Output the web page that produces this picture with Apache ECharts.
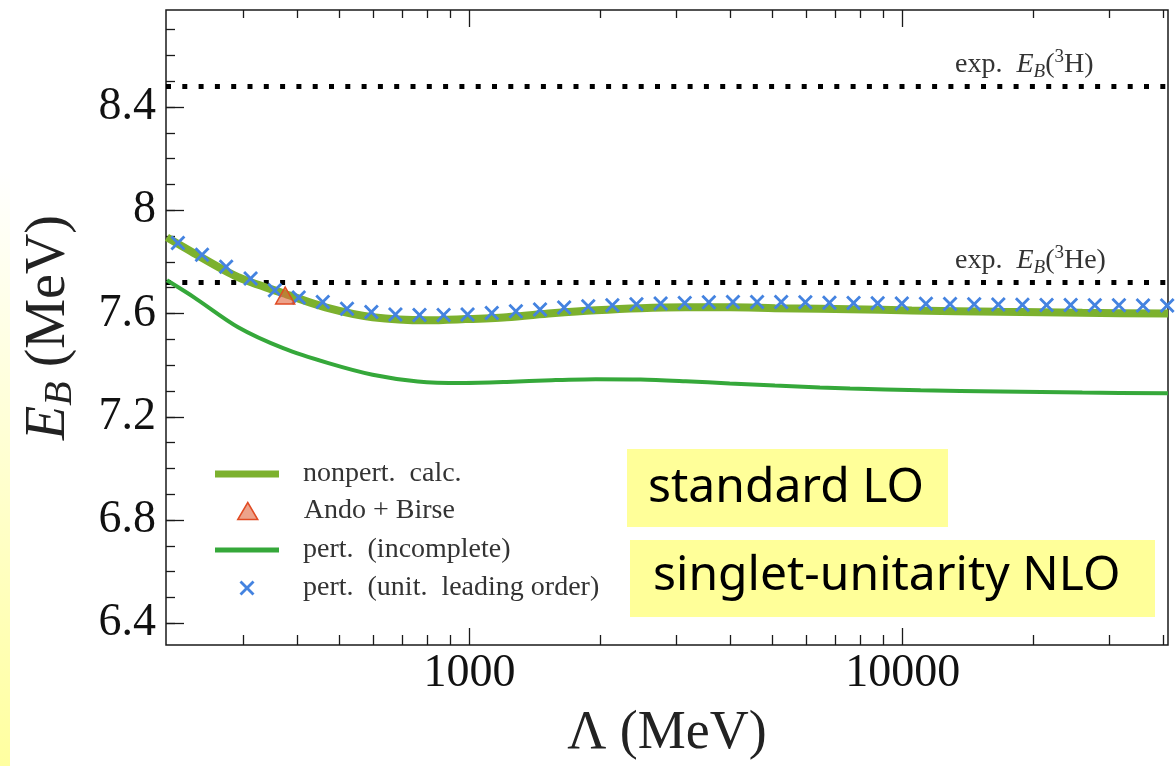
<!DOCTYPE html>
<html>
<head>
<meta charset="utf-8">
<script src="https://cdn.jsdelivr.net/npm/echarts@6/dist/echarts.min.js"></script>
<style>
  html, body { margin: 0; padding: 0; background: #ffffff; }
  #chart { width: 1176px; height: 766px; }
</style>
</head>
<body>
<div id="chart"></div>
<script>
// Triton binding energy E_B (MeV) versus cutoff Λ (MeV)

// nonperturbative calculation
const nonpertLambda = [200, 231, 292, 371, 472, 597, 796, 959, 1218, 1548, 1956, 2483, 3155, 3988, 5070, 6440, 7560, 10500, 16800, 26000, 41000];
const nonpertEB     = [7.895, 7.834, 7.741, 7.679, 7.621, 7.586, 7.574, 7.578, 7.586, 7.601, 7.613, 7.621, 7.624, 7.624, 7.621, 7.619, 7.617, 7.612, 7.607, 7.603, 7.600];

// perturbative (incomplete)
const pertLambda = [200, 231, 292, 371, 472, 597, 759, 959, 1218, 1548, 1956, 2483, 3155, 3988, 5070, 6440, 7560, 11000, 16800, 26000, 41000];
const pertEB     = [7.729, 7.663, 7.547, 7.466, 7.408, 7.363, 7.337, 7.331, 7.335, 7.342, 7.346, 7.345, 7.338, 7.329, 7.321, 7.314, 7.310, 7.303, 7.298, 7.294, 7.291];

// perturbative (unitarity leading order)
const unitLambda = [212, 241, 274, 312, 355, 403, 458, 521, 593, 674, 766, 871, 989, 1125, 1279, 1454, 1653, 1879, 2136, 2428, 2761,
                    3139, 3568, 4056, 4611, 5242, 5960, 6776, 7703, 8757, 9956, 11318, 12867, 14628, 16630, 18906, 21494, 24435, 27779, 31581, 35903, 40816];
const unitEB     = [7.873, 7.828, 7.781, 7.736, 7.690, 7.662, 7.645, 7.619, 7.606, 7.596, 7.594, 7.594, 7.596, 7.602, 7.609, 7.616, 7.623, 7.628, 7.632, 7.636, 7.639,
                    7.641, 7.644, 7.645, 7.645, 7.645, 7.644, 7.642, 7.641, 7.640, 7.639, 7.638, 7.637, 7.636, 7.635, 7.634, 7.633, 7.633, 7.632, 7.632, 7.631, 7.631];

// Ando + Birse point
const andoLambda = [375];
const andoEB     = [7.67];

// experimental binding energies
const expEB_H3  = 8.48;
const expEB_He3 = 7.72;

// axis ranges and ticks
const xRange = [199, 41000];
const yRange = [6.316, 8.776];
const xMajorTicks = [1000, 10000];
const xMinorTicks = [300, 400, 500, 600, 700, 800, 900, 2000, 3000, 4000, 5000, 6000, 7000, 8000, 9000, 20000, 30000, 40000];
const yMajorTicks = [6.4, 6.8, 7.2, 7.6, 8, 8.4];
const yMinorTicks = [6.4, 6.5, 6.6, 6.7, 6.8, 6.9, 7.0, 7.1, 7.2, 7.3, 7.4, 7.5, 7.6, 7.7, 7.8, 7.9, 8.0, 8.1, 8.2, 8.3, 8.4, 8.5, 8.6, 8.7];

const zip = (xs, ys) => xs.map((x, i) => [x, ys[i]]);

const SERIF = '"Liberation Serif", "DejaVu Serif", serif';
const C_NONPERT = '#7cb12e';
const C_PERT = '#35a83a';
const C_UNIT = '#4483e0';
const C_TRI_FILL = 'rgba(225,100,60,0.6)';
const C_TRI_EDGE = '#e04b24';
const TICK = { color: '#1a1a1a', width: 1.3 };

const CROSS = 'path://M1.6,0L6,4.4L10.4,0L12,1.6L7.6,6L12,10.4L10.4,12L6,7.6L1.6,12L0,10.4L4.4,6L0,1.6Z';
const TRIANGLE = 'path://M10,0L20,17L0,17Z';

function xAxisDef(position, ticks, len, withLabels) {
  const ax = {
    type: 'log', logBase: 10, min: xRange[0], max: xRange[1], position: position,
    axisLine: { show: false }, splitLine: { show: false }, minorSplitLine: { show: false },
    axisTick: { show: true, inside: true, length: len, customValues: ticks, lineStyle: TICK },
    axisLabel: { show: false }
  };
  if (withLabels) {
    ax.axisLabel = {
      show: true, customValues: ticks, margin: 6,
      fontFamily: SERIF, fontSize: 46, lineHeight: 46, color: '#111',
      formatter: v => String(Math.round(v))
    };
    ax.name = 'Λ (MeV)';
    ax.nameLocation = 'middle';
    ax.nameGap = 55;
    ax.nameTextStyle = { fontFamily: SERIF, fontSize: 54, lineHeight: 64, color: '#222' };
  }
  return ax;
}

function yAxisDef(ticks, len, withLabels) {
  const ax = {
    type: 'value', min: yRange[0], max: yRange[1], position: 'left',
    axisLine: { show: false }, splitLine: { show: false },
    axisTick: { show: true, inside: true, length: len, customValues: ticks, lineStyle: TICK },
    axisLabel: { show: false }
  };
  if (withLabels) {
    ax.axisLabel = {
      show: true, customValues: ticks, margin: 10,
      fontFamily: SERIF, fontSize: 46, lineHeight: 46, color: '#111',
      formatter: v => String(+(+v).toFixed(1))
    };
    ax.name = '{i|E}{s|B}{t| (MeV)}';
    ax.nameLocation = 'middle';
    ax.nameRotate = 90;
    ax.nameGap = 86;
    ax.nameTextStyle = {
      fontFamily: SERIF, fontSize: 54, color: '#222',
      rich: {
        i: { fontFamily: SERIF, fontStyle: 'italic', fontSize: 56, lineHeight: 62, verticalAlign: 'middle', color: '#222' },
        s: { fontFamily: SERIF, fontStyle: 'italic', fontSize: 40, lineHeight: 40, verticalAlign: 'bottom', color: '#222' },
        t: { fontFamily: SERIF, fontSize: 56, lineHeight: 62, verticalAlign: 'middle', color: '#222' }
      }
    };
  }
  return ax;
}

// one legend row: icon centred at (cx, cy), text starting at x = 303
function legendRow(name, icon, w, h, cx, cy, itemStyle) {
  const left = cx - w / 2;
  return {
    show: true, orient: 'vertical', left: left, top: cy - 14, padding: 0,
    itemWidth: w, itemHeight: h, symbolKeepAspect: true, selectedMode: false,
    data: [{ name: name, icon: icon }],
    itemStyle: itemStyle,
    textStyle: {
      fontFamily: SERIF, fontSize: 28, lineHeight: 28, color: '#333',
      padding: [0, 0, 0, 303 - (left + w + 5)]
    }
  };
}

const expRich = {
  t: { fontFamily: SERIF, fontSize: 28, lineHeight: 34, verticalAlign: 'middle', fill: '#333' },
  i: { fontFamily: SERIF, fontStyle: 'italic', fontSize: 28, lineHeight: 34, verticalAlign: 'middle', fill: '#333' },
  s: { fontFamily: SERIF, fontStyle: 'italic', fontSize: 19, lineHeight: 19, verticalAlign: 'bottom', fill: '#333' },
  p: { fontFamily: SERIF, fontSize: 19, lineHeight: 19, verticalAlign: 'top', fill: '#333' }
};

const option = {
  animation: false,
  backgroundColor: '#ffffff',
  grid: {
    left: 166, top: 10, width: 1002, height: 635,
    show: true, borderColor: '#1a1a1a', borderWidth: 1.5, backgroundColor: 'transparent',
    containLabel: false, outerBoundsMode: 'none'
  },
  xAxis: [
    xAxisDef('bottom', xMajorTicks, 17, true),
    xAxisDef('bottom', xMinorTicks, 10, false),
    xAxisDef('top', xMajorTicks, 17, false),
    xAxisDef('top', xMinorTicks, 8, false)
  ],
  yAxis: [
    yAxisDef(yMajorTicks, 18, true),
    yAxisDef(yMinorTicks, 9, false)
  ],
  legend: [
    legendRow('nonpert.  calc.', 'path://M0,0H64V7H0Z', 64, 7, 247, 474, { color: C_NONPERT, borderWidth: 0 }),
    legendRow('Ando + Birse', TRIANGLE, 20, 17, 247, 511, { color: C_TRI_FILL, borderColor: C_TRI_EDGE, borderWidth: 1.5 }),
    legendRow('pert.  (incomplete)', 'path://M0,0H64V5H0Z', 64, 5, 247, 550, { color: C_PERT, borderWidth: 0 }),
    legendRow('pert.  (unit.  leading order)', CROSS, 15, 15, 247, 588, { color: C_UNIT, borderWidth: 0 })
  ],
  series: [
    {
      name: 'expH', type: 'line', silent: true, symbol: 'none', z: 1,
      data: [[xRange[0], expEB_H3], [xRange[1], expEB_H3]],
      lineStyle: { color: '#000', width: 5, type: [5, 11.3], cap: 'butt' }
    },
    {
      name: 'expHe', type: 'line', silent: true, symbol: 'none', z: 1,
      data: [[xRange[0], expEB_He3], [xRange[1], expEB_He3]],
      lineStyle: { color: '#000', width: 5, type: [5, 11.3], cap: 'butt' }
    },
    {
      name: 'pert.  (incomplete)', type: 'line', symbol: 'none', smooth: 0.3, z: 2,
      color: C_PERT,
      data: zip(pertLambda, pertEB),
      lineStyle: { color: C_PERT, width: 4 }
    },
    {
      name: 'nonpert.  calc.', type: 'line', symbol: 'none', smooth: 0.3, z: 2,
      color: C_NONPERT,
      data: zip(nonpertLambda, nonpertEB),
      lineStyle: { color: C_NONPERT, width: 8 }
    },
    {
      name: 'pert.  (unit.  leading order)', type: 'scatter', z: 4,
      symbol: CROSS, symbolSize: 15,
      data: zip(unitLambda, unitEB),
      itemStyle: { color: C_UNIT, opacity: 1 }
    },
    {
      name: 'Ando + Birse', type: 'scatter', z: 5,
      symbol: TRIANGLE, symbolSize: [19, 17],
      data: zip(andoLambda, andoEB),
      itemStyle: { color: C_TRI_FILL, borderColor: C_TRI_EDGE, borderWidth: 1.5, opacity: 1 }
    }
  ],
  graphic: {
    elements: [
      {
        id: 'edge', type: 'rect', left: 0, top: 0, silent: true, z: 0,
        shape: { width: 10, height: 766 },
        style: {
          fill: new echarts.graphic.LinearGradient(0, 0, 0, 1, [
            { offset: 0, color: '#ffffff' },
            { offset: 0.22, color: '#ffffff' },
            { offset: 1, color: '#ffffa0' }
          ])
        }
      },
      {
        id: 'boxLO', type: 'group', left: 627, top: 449, z: 10,
        children: [
          { type: 'rect', shape: { x: 0, y: 0, width: 321, height: 78 }, style: { fill: '#ffff99' } },
          { type: 'text', x: 21, y: 39, style: { text: 'standard LO', fontFamily: '"Comic Sans MS", "Noto Sans", sans-serif', fontSize: 48, fill: '#000', verticalAlign: 'middle' } }
        ]
      },
      {
        id: 'boxNLO', type: 'group', left: 630, top: 540, z: 10,
        children: [
          { type: 'rect', shape: { x: 0, y: 0, width: 525, height: 77 }, style: { fill: '#ffff99' } },
          { type: 'text', x: 23, y: 36, style: { text: 'singlet-unitarity NLO', fontFamily: '"Comic Sans MS", "Noto Sans", sans-serif', fontSize: 48, fill: '#000', verticalAlign: 'middle' } }
        ]
      }
    ]
  }
};

const chart = echarts.init(document.getElementById('chart'), null, { renderer: 'canvas' });
chart.setOption(option);

// labels above the experimental lines, placed from their values
const yH  = chart.convertToPixel({ yAxisIndex: 0 }, expEB_H3);
const yHe = chart.convertToPixel({ yAxisIndex: 0 }, expEB_He3);
chart.setOption({
  graphic: {
    elements: [
      {
        id: 'labH', type: 'text', x: 955, y: yH - 22, z: 10, silent: true,
        style: { text: '{t|exp.  }{i|E}{s|B}{t|(}{p|3}{t|H)}', rich: expRich, verticalAlign: 'middle' }
      },
      {
        id: 'labHe', type: 'text', x: 955, y: yHe - 22, z: 10, silent: true,
        style: { text: '{t|exp.  }{i|E}{s|B}{t|(}{p|3}{t|He)}', rich: expRich, verticalAlign: 'middle' }
      }
    ]
  }
});
</script>
</body>
</html>
